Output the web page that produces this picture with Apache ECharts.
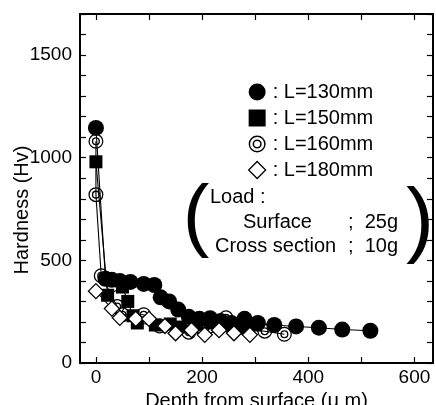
<!DOCTYPE html>
<html>
<head>
<meta charset="utf-8">
<script src="https://cdn.jsdelivr.net/npm/echarts@6/dist/echarts.min.js"></script>
<style>
html, body { margin: 0; padding: 0; background: #fff; }
#chart { width: 436px; height: 405px; }
</style>
</head>
<body>
<div id="chart"></div>
<script>
// hardness profiles, [depth (um), Hv]
var seriesNames = ['L=130mm', 'L=150mm', 'L=160mm', 'L=180mm'];
var data130 = [[0,1145],[18,410],[30,405],[45,400],[65,395],[90,385],[110,380],[122,320],[138,300],[155,260],[175,225],[195,215],[215,218],[235,205],[255,195],[280,215],[305,195],[336,185],[377,178],[420,172],[464,163],[517,157]];
var data150 = [[0,980],[22,330],[50,370],[60,300],[70,230],[78,195],[112,185],[140,190],[160,175],[190,190],[215,195],[240,185],[262,175],[285,170],[300,185]];
var data160 = [[0,1080],[0,820],[10,425],[40,275],[50,235],[90,235],[120,180],[175,150],[200,170],[245,220],[285,165],[318,155],[355,140]];
var data180 = [[0,350],[30,265],[45,220],[75,215],[100,215],[130,180],[150,145],[180,160],[205,137],[232,160],[260,145],[290,137]];
var xTicks = [0, 100, 200, 300, 400, 500, 600];
var xLabels = [0, 200, 400, 600];

var font = 'Liberation Sans';
var ringPath = 'path://M10,0A10,10,0,1,1,10,20A10,10,0,1,1,10,0Z' +
	'M10,1.7A8.3,8.3,0,1,0,10,18.3A8.3,8.3,0,1,0,10,1.7Z' +
	'M10,4.6A5.4,5.4,0,1,1,10,15.4A5.4,5.4,0,1,1,10,4.6Z' +
	'M10,6.4A3.6,3.6,0,1,0,10,13.6A3.6,3.6,0,1,0,10,6.4Z';

var markers = [
	{ symbol: 'circle', size: 16, style: { color: '#000' } },
	{ symbol: 'rect', size: 13, style: { color: '#000' } },
	{ symbol: ringPath, size: 15, style: { color: '#000' } },
	{ symbol: 'diamond', size: 15, style: { color: '#fff', borderColor: '#000', borderWidth: 1.3 } }
];
var allData = [data130, data150, data160, data180];

function frameAxis(pos, isX) {
	var ax = {
		type: 'value',
		position: pos,
		min: isX ? -30 : 0,
		max: isX ? 635 : 1700,
		axisLine: { show: true, onZero: false, lineStyle: { color: '#000', width: 2 } },
		axisTick: { show: true, inside: true, length: 6, lineStyle: { color: '#000', width: 1.2 } },
		axisLabel: { show: false },
		splitLine: { show: false }
	};
	if (isX) {
		ax.axisTick.customValues = xTicks;
	} else {
		ax.interval = 100;
	}
	return ax;
}

var xBottom = frameAxis('bottom', true);
xBottom.axisLabel = { show: true, customValues: xLabels, color: '#000', fontFamily: font, fontSize: 19, margin: 5 };
xBottom.name = 'Depth from surface (\u03bc m)';
xBottom.nameLocation = 'middle';
xBottom.nameGap = 22;
xBottom.nameTextStyle = { color: '#000', fontFamily: font, fontSize: 20 };

var yLeft = frameAxis('left', false);
yLeft.axisLabel = {
	show: true, color: '#000', fontFamily: font, fontSize: 19, margin: 8,
	formatter: function(v) { return v % 500 === 0 ? String(v) : ''; }
};

var series = allData.map(function(d, i) {
	return {
		name: seriesNames[i],
		type: 'line',
		data: d,
		symbol: markers[i].symbol,
		symbolSize: markers[i].size,
		showAllSymbol: true,
		itemStyle: markers[i].style,
		lineStyle: { color: '#000', width: 1.1 },
		z: 3 + i,
		animation: false
	};
});

var chart = echarts.init(document.getElementById('chart'));
chart.setOption({
	backgroundColor: '#fff',
	animation: false,
	grid: { left: 80, right: 3, top: 14, bottom: 42, outerBoundsMode: 'none' },
	xAxis: [xBottom, frameAxis('top', true)],
	yAxis: [yLeft, frameAxis('right', false)],
	legend: {
		orient: 'vertical',
		left: 243,
		top: 77,
		itemWidth: 17,
		itemHeight: 17,
		itemGap: 6,
		textStyle: { color: '#000', fontFamily: font, fontSize: 20, padding: [0, 0, 0, 2] },
		formatter: function(n) { return ': ' + n; },
		data: seriesNames.map(function(n, i) {
			return { name: n, icon: markers[i].symbol, itemStyle: markers[i].style };
		})
	},
	graphic: [
		{ type: 'text', x: 22, y: 210, rotation: Math.PI / 2,
			style: { text: 'Hardness (Hv)', fill: '#000', font: '20px ' + font, textAlign: 'center', textVerticalAlign: 'middle' } },
		{ type: 'text', x: 196, y: 219,
			style: { text: '(', fill: '#000', font: '80px ' + font, textAlign: 'center', textVerticalAlign: 'middle' } },
		{ type: 'text', x: 420, y: 224,
			style: { text: ')', fill: '#000', font: '84px ' + font, textAlign: 'center', textVerticalAlign: 'middle' } },
		{ type: 'text', x: 210, y: 197,
			style: { text: 'Load :', fill: '#000', font: '20px ' + font, textVerticalAlign: 'middle' } },
		{ type: 'text', x: 243, y: 222,
			style: { text: 'Surface', fill: '#000', font: '20px ' + font, textVerticalAlign: 'middle' } },
		{ type: 'text', x: 348, y: 222,
			style: { text: ';  25g', fill: '#000', font: '20px ' + font, textVerticalAlign: 'middle' } },
		{ type: 'text', x: 215, y: 246,
			style: { text: 'Cross section', fill: '#000', font: '20px ' + font, textVerticalAlign: 'middle' } },
		{ type: 'text', x: 348, y: 246,
			style: { text: ';  10g', fill: '#000', font: '20px ' + font, textVerticalAlign: 'middle' } }
	],
	series: series
});
</script>
</body>
</html>
